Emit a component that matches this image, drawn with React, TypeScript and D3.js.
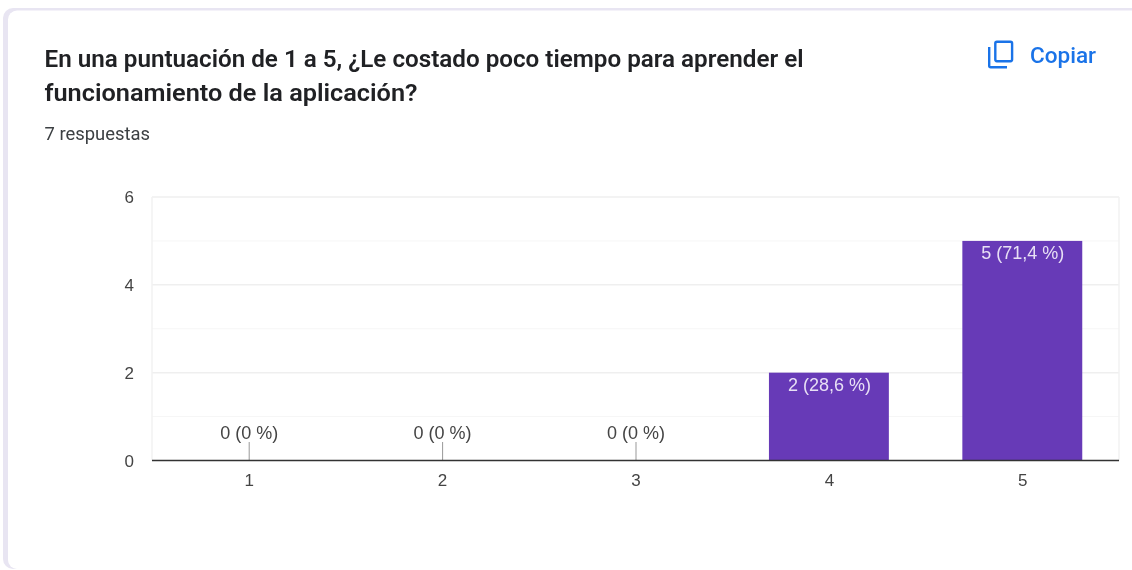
import React from "react";
import * as d3 from "d3";

const categories = ["1", "2", "3", "4", "5"];
const counts = [0, 0, 0, 2, 5];
const shareLabels = ["0 %", "0 %", "0 %", "28,6 %", "71,4 %"];
const majorTicks = [0, 2, 4, 6];
const minorTicks = [1, 3, 5];
const titleLines = [
  "En una puntuación de 1 a 5, ¿Le costado poco tiempo para aprender el",
  "funcionamiento de la aplicación?",
];
const titleWidths = [759, 373];
const subtitle = "7 respuestas";
const copyLabel = "Copiar";

const WIDTH = 1132;
const HEIGHT = 570;
const PLOT = { left: 152, right: 1119, top: 197, bottom: 460.5 };
const FONT = "Roboto, Arial, sans-serif";
const CHART_FONT = "'Liberation Sans', Arial, sans-serif";
const PURPLE = "#673ab7";

export default function App() {
  const x = d3
    .scaleBand<string>()
    .domain(categories)
    .range([PLOT.left, PLOT.right])
    .paddingInner(0.38)
    .paddingOuter(0.19);
  const y = d3.scaleLinear().domain([0, 6]).range([PLOT.bottom, PLOT.top]);

  return (
    <svg
      width={WIDTH}
      height={HEIGHT}
      viewBox={`0 0 ${WIDTH} ${HEIGHT}`}
      style={{ position: "absolute", left: 0, top: 0, background: "#fff", filter: "blur(0.5px)" }}
    >
      {/* card */}
      <rect x={3} y={8} width={1140} height={561} rx={10} fill="#e8e5f2" />
      <rect x={8} y={10.5} width={1135} height={558.5} rx={9} fill="#fff" />

      {/* heading */}
      {titleLines.map((line, i) => (
        <text
          key={line}
          x={44.5}
          y={66.5 + i * 34.5}
          fontFamily={FONT}
          fontSize={23}
          fontWeight={600}
          fill="#202124"
          textLength={titleWidths[i]}
          lengthAdjust="spacingAndGlyphs"
        >
          {line}
        </text>
      ))}
      <text
        x={44.5}
        y={140}
        fontFamily={FONT}
        fontSize={18}
        fill="#3c4043"
        textLength={105.5}
        lengthAdjust="spacingAndGlyphs"
      >
        {subtitle}
      </text>

      {/* copy action */}
      <g fill="none" stroke="#1a73e8" strokeWidth={2.4}>
        <rect x={995.3} y={41.8} width={16.8} height={19.4} rx={1.6} />
        <path d="M989.2 47 V65.8 a1.5 1.5 0 0 0 1.5 1.5 H1007" />
      </g>
      <text
        x={1030}
        y={62.5}
        fontFamily={FONT}
        fontSize={22}
        fontWeight={500}
        fill="#1a73e8"
        textLength={66}
        lengthAdjust="spacingAndGlyphs"
      >
        {copyLabel}
      </text>

      {/* grid */}
      {minorTicks.map((t) => (
        <line key={t} x1={PLOT.left} x2={PLOT.right} y1={y(t)} y2={y(t)} stroke="#f6f6f6" strokeWidth={1} />
      ))}
      {majorTicks
        .filter((t) => t > 0)
        .map((t) => (
          <line key={t} x1={PLOT.left} x2={PLOT.right} y1={y(t)} y2={y(t)} stroke="#efefef" strokeWidth={1.5} />
        ))}
      <line x1={PLOT.left} x2={PLOT.left} y1={PLOT.top} y2={PLOT.bottom} stroke="#f2f2f2" strokeWidth={1.5} />
      <line x1={PLOT.right} x2={PLOT.right} y1={PLOT.top} y2={PLOT.bottom} stroke="#f2f2f2" strokeWidth={1.5} />

      {/* y-axis labels */}
      {majorTicks.map((t) => (
        <text
          key={t}
          x={134}
          y={y(t) + 6}
          textAnchor="end"
          fontFamily={CHART_FONT}
          fontSize={17}
          fill="#444"
        >
          {t}
        </text>
      ))}

      {/* bars */}
      {categories.map((c, i) =>
        counts[i] > 0 ? (
          <rect
            key={c}
            x={x(c)!}
            y={y(counts[i])}
            width={x.bandwidth()}
            height={PLOT.bottom - y(counts[i])}
            fill={PURPLE}
          />
        ) : null,
      )}

      {/* stems for empty categories */}
      {categories.map((c, i) =>
        counts[i] === 0 ? (
          <line
            key={c}
            x1={x(c)! + x.bandwidth() / 2 + 0.5}
            x2={x(c)! + x.bandwidth() / 2 + 0.5}
            y1={442}
            y2={PLOT.bottom}
            stroke="#999"
            strokeWidth={1}
          />
        ) : null,
      )}

      {/* baseline */}
      <line x1={PLOT.left} x2={PLOT.right} y1={PLOT.bottom} y2={PLOT.bottom} stroke="#333" strokeWidth={1.4} />

      {/* value labels */}
      {categories.map((c, i) => (
        <text
          key={c}
          x={x(c)! + x.bandwidth() / 2 + 0.5}
          y={counts[i] > 0 ? y(counts[i]) + 18 : 439}
          textAnchor="middle"
          fontFamily={CHART_FONT}
          fontSize={18}
          fill={counts[i] > 0 ? "#e8e0f5" : "#444"}
        >
          {`${counts[i]} (${shareLabels[i]})`}
        </text>
      ))}

      {/* x-axis labels */}
      {categories.map((c) => (
        <text
          key={c}
          x={x(c)! + x.bandwidth() / 2 + 0.5}
          y={486}
          textAnchor="middle"
          fontFamily={CHART_FONT}
          fontSize={17}
          fill="#444"
        >
          {c}
        </text>
      ))}
    </svg>
  );
}
